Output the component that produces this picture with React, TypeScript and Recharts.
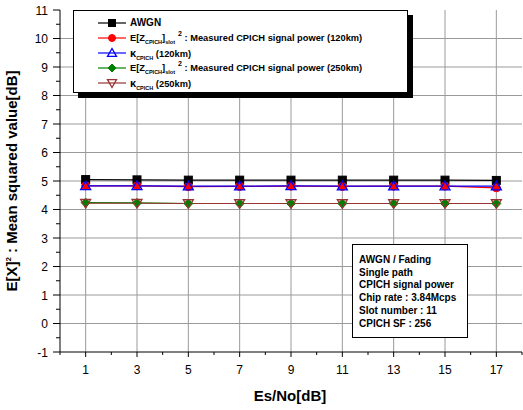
import React from "react";
import { LineChart, Line, XAxis, YAxis, ReferenceLine, Legend } from "recharts";

const esNo = [1, 3, 5, 7, 9, 11, 13, 15, 17];
const awgn = [5.05, 5.04, 5.03, 5.03, 5.03, 5.03, 5.03, 5.03, 5.02];
const measured120 = [4.83, 4.83, 4.8, 4.81, 4.82, 4.81, 4.82, 4.82, 4.76];
const kappa120 = [4.83, 4.83, 4.82, 4.82, 4.83, 4.82, 4.82, 4.82, 4.82];
const measured250 = [4.24, 4.23, 4.21, 4.21, 4.21, 4.21, 4.21, 4.21, 4.21];
const kappa250 = [4.22, 4.22, 4.21, 4.21, 4.21, 4.21, 4.21, 4.21, 4.21];

const xTicks = [0, 1, 2, 3, 4, 5, 6, 7, 8, 9, 10, 11, 12, 13, 14, 15, 16, 17, 18];
const yTicks = [-1, -0.5, 0, 0.5, 1, 1.5, 2, 2.5, 3, 3.5, 4, 4.5, 5, 5.5, 6, 6.5, 7, 7.5, 8, 8.5, 9, 9.5, 10, 10.5, 11];
const xGrid = [1, 3, 5, 7, 9, 11, 13, 15, 17];
const yGrid = [0, 1, 2, 3, 4, 5, 6, 7, 8, 9, 10];
const infoLines = [
  "AWGN / Fading",
  "Single path",
  "CPICH signal power",
  "Chip rate : 3.84Mcps",
  "Slot number : 11",
  "CPICH SF : 256",
];

const FONT = "'Liberation Sans', Arial, sans-serif";

const data = esNo.map((x, i) => ({
  x,
  awgn: awgn[i],
  m120: measured120[i],
  k120: kappa120[i],
  m250: measured250[i],
  k250: kappa250[i],
}));

type Shape = "square" | "circle" | "triangle" | "diamond" | "triangleDown";

const series: { key: string; color: string; shape: Shape; fill: string; size: number }[] = [
  { key: "awgn", color: "#000000", shape: "square", fill: "#000000", size: 8 },
  { key: "m120", color: "#ff0000", shape: "circle", fill: "#ff0000", size: 9 },
  { key: "k120", color: "#0000ff", shape: "triangle", fill: "none", size: 10 },
  { key: "m250", color: "#008000", shape: "diamond", fill: "#008000", size: 9 },
  { key: "k250", color: "#993333", shape: "triangleDown", fill: "none", size: 10 },
];

function Marker({ cx, cy, shape, fill, stroke, size }: any) {
  const h = size / 2;
  if (shape === "square")
    return <rect x={cx - h} y={cy - h} width={size} height={size} fill={fill} stroke={stroke} strokeWidth={1} />;
  if (shape === "circle") return <circle cx={cx} cy={cy} r={h - 0.5} fill={fill} stroke={stroke} strokeWidth={1} />;
  if (shape === "triangle")
    return (
      <polygon
        points={`${cx},${cy - h} ${cx + h},${cy + h * 0.75} ${cx - h},${cy + h * 0.75}`}
        fill={fill}
        stroke={stroke}
        strokeWidth={1.3}
      />
    );
  if (shape === "triangleDown")
    return (
      <polygon
        points={`${cx},${cy + h} ${cx + h},${cy - h * 0.75} ${cx - h},${cy - h * 0.75}`}
        fill={fill}
        stroke={stroke}
        strokeWidth={1.3}
      />
    );
  return (
    <polygon
      points={`${cx},${cy - h} ${cx + h},${cy} ${cx},${cy + h} ${cx - h},${cy}`}
      fill={fill}
      stroke={stroke}
      strokeWidth={1}
    />
  );
}

function XTick(props: any) {
  const { x, y, payload } = props;
  const v = payload.value;
  const major = v % 2 === 1;
  return (
    <g>
      <line x1={x} x2={x} y1={y} y2={y + (major ? 5 : 3)} stroke="#000" strokeWidth={1} />
      {major && (
        <text x={x} y={y + 22} textAnchor="middle" fontSize={12} fontFamily={FONT} fill="#000">
          {v}
        </text>
      )}
    </g>
  );
}

function YTick(props: any) {
  const { x, y, payload } = props;
  const v = payload.value;
  const major = Number.isInteger(v);
  return (
    <g>
      <line x1={x - (major ? 7 : 4)} x2={x} y1={y} y2={y} stroke="#000" strokeWidth={1} />
      {major && (
        <text x={x - 12} y={y + 4.5} textAnchor="end" fontSize={12} fontFamily={FONT} fill="#000">
          {v}
        </text>
      )}
    </g>
  );
}

const subStyle: React.CSSProperties = { fontSize: 5.5, position: "relative", top: 3 };
const supStyle: React.CSSProperties = { fontSize: 7, position: "relative", top: -5, marginLeft: 3 };

function legendLabel(key: string) {
  const km = key.endsWith("120") ? "(120km)" : "(250km)";
  if (key === "awgn") return <span style={{ fontSize: 10 }}>AWGN</span>;
  if (key.startsWith("m"))
    return (
      <span>
        E[Z<span style={subStyle}>CPICH</span>]<span style={subStyle}>slot</span>
        <span style={supStyle}>2</span> : Measured CPICH signal power {km}
      </span>
    );
  return (
    <span>
      <span style={{ fontSize: 11 }}>κ</span>
      <span style={subStyle}>CPICH</span> {km}
    </span>
  );
}

function LegendBox() {
  return (
    <div
      style={{
        width: 335,
        height: 83,
        boxSizing: "border-box",
        border: "1px solid #000",
        background: "#fff",
        boxShadow: "5px 5px 0 #000",
        paddingTop: 4,
        fontFamily: FONT,
        fontWeight: "bold",
        fontSize: 9.3,
        color: "#000",
        textAlign: "left",
      }}
    >
      {series.map((s) => (
        <div key={s.key} style={{ height: 15, display: "flex", alignItems: "center", whiteSpace: "nowrap" }}>
          <svg width={32} height={14} style={{ marginLeft: 23, marginRight: 1 }}>
            <line x1={1} x2={29} y1={7} y2={7} stroke={s.color} strokeWidth={1.2} />
            <Marker cx={15} cy={7} shape={s.shape} fill={s.fill} stroke={s.color} size={s.size - 1} />
          </svg>
          {legendLabel(s.key)}
        </div>
      ))}
    </div>
  );
}

export default function App() {
  return (
    <div style={{ position: "absolute", left: 0, top: 0, width: 523, height: 410, background: "#fff" }}>
      <LineChart width={523} height={410} data={data} margin={{ top: 10, right: 1, bottom: 0, left: 0 }}>
        {xGrid.map((v) => (
          <ReferenceLine key={"gx" + v} x={v} stroke="#9a9a9a" strokeWidth={1} />
        ))}
        {yGrid.map((v) => (
          <ReferenceLine key={"gy" + v} y={v} stroke="#9a9a9a" strokeWidth={1} />
        ))}
        <XAxis
          dataKey="x"
          type="number"
          domain={[0, 18]}
          ticks={xTicks}
          interval={0}
          height={58}
          tickLine={false}
          tickSize={0}
          tickMargin={0}
          tick={<XTick />}
          axisLine={{ stroke: "#000", strokeWidth: 1 }}
        />
        <YAxis
          type="number"
          domain={[-1, 11]}
          ticks={yTicks}
          interval={0}
          width={60}
          tickLine={false}
          tickSize={0}
          tickMargin={0}
          tick={<YTick />}
          axisLine={{ stroke: "#000", strokeWidth: 1 }}
        />
        {series.map((s) => (
          <Line
            key={s.key}
            dataKey={s.key}
            stroke={s.color}
            strokeWidth={1.2}
            isAnimationActive={false}
            dot={(p: any) => (
              <Marker key={s.key + p.index} cx={p.cx} cy={p.cy} shape={s.shape} fill={s.fill} stroke={s.color} size={s.size} />
            )}
            activeDot={false}
          />
        ))}
        <Legend
          layout="horizontal"
          verticalAlign="middle"
          align="center"
          content={() => <LegendBox />}
          wrapperStyle={{ position: "absolute", left: 73, top: 10, width: 335, height: 83 }}
        />
        <text
          transform="translate(17,181) rotate(-90)"
          textAnchor="middle"
          fontSize={15}
          fontWeight="bold"
          fontFamily={FONT}
          fill="#000"
        >
          E[X]<tspan fontSize={8} dy={-6}>2</tspan>
          <tspan dy={6}> : Mean squared value[dB]</tspan>
        </text>
        <text x={290} y={401} textAnchor="middle" fontSize={15} fontWeight="bold" fontFamily={FONT} fill="#000">
          Es/No[dB]
        </text>
      </LineChart>
      <div
        style={{
          position: "absolute",
          left: 352,
          top: 244,
          width: 116,
          height: 94,
          boxSizing: "border-box",
          border: "1px solid #000",
          background: "#fff",
          paddingTop: 9,
          paddingLeft: 6,
          fontFamily: FONT,
          fontWeight: "bold",
          fontSize: 10,
          lineHeight: "12.7px",
          color: "#000",
          whiteSpace: "nowrap",
        }}
      >
        {infoLines.map((l) => (
          <div key={l}>{l}</div>
        ))}
      </div>
    </div>
  );
}
